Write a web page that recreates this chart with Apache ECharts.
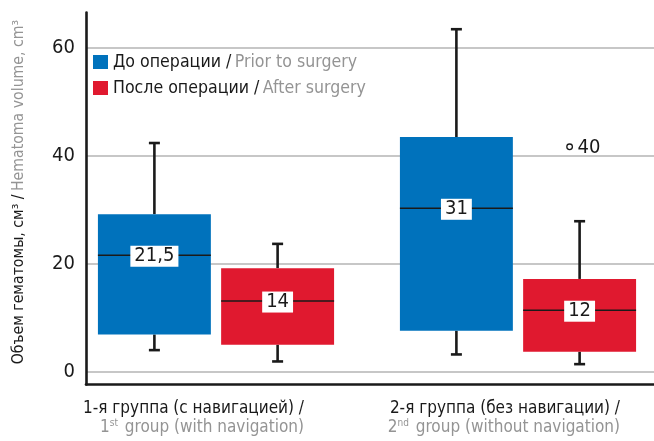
<!DOCTYPE html>
<html>
<head>
<meta charset="utf-8">
<script src="https://cdn.jsdelivr.net/npm/echarts@6/dist/echarts.min.js"></script>
<style>
  html, body { margin: 0; padding: 0; background: #fff; }
  #chart { width: 654px; height: 441px; }
</style>
</head>
<body>
<div id="chart"></div>
<script>
// groups on the x axis
const groupRu = ['1-я группа (с навигацией) /', '2-я группа (без навигации) /'];
const groupEn = [['1', 'st', ' group (with navigation)'], ['2', 'nd', ' group (without navigation)']];

// [min, Q1, median, Q3, max], cm3
const beforeStats = [[4.0, 6.9, 21.6, 29.2, 42.4], [3.2, 7.6, 30.3, 43.5, 63.5]];
const afterStats = [[1.9, 5.0, 13.1, 19.2, 23.7], [1.4, 3.7, 11.4, 17.2, 27.9]];
const beforeLabels = ['21,5', '31'];
const afterLabels = ['14', '12'];

// outliers of "after" series: [group, value, label]
const afterOutliers = [[1, 41.7, '40']];

const yTicks = [0, 20, 40, 60];
const yMax = 66.6;

const FONT = "'Liberation Sans Narrow', 'DejaVu Sans Condensed', sans-serif";
const BLUE = '#0072bc';
const RED = '#e0192f';
const GRAY = '#949494';
const INK = '#1a1a1a';

const boxRatio = 0.374;   // box width / group spacing
const shift = 0.204;      // box centre offset / group spacing

var myChart = echarts.init(document.getElementById('chart'), null, { renderer: 'canvas' });

const renderBox = (side, color, labels) => (params, api) => {
    const cat = api.value(0);
    const band = api.size([1, 0])[0];
    const cx = api.coord([cat, 0])[0] + side * shift * band;
    const half = boxRatio * band / 2;
    const y = i => api.coord([cat, api.value(i)])[1];
    const yMin = y(1), yQ1 = y(2), yMed = y(3), yQ3 = y(4), yTop = y(5);
    const cap = 5.5;
    const w = { stroke: INK, lineWidth: 2.6 };
    return {
        type: 'group',
        children: [
            { type: 'line', shape: { x1: cx, y1: yTop, x2: cx, y2: yQ3 }, style: w },
            { type: 'line', shape: { x1: cx, y1: yQ1, x2: cx, y2: yMin }, style: w },
            { type: 'line', shape: { x1: cx - cap, y1: yTop, x2: cx + cap, y2: yTop }, style: w },
            { type: 'line', shape: { x1: cx - cap, y1: yMin, x2: cx + cap, y2: yMin }, style: w },
            { type: 'rect', shape: { x: cx - half, y: yQ3, width: half * 2, height: yQ1 - yQ3 }, style: { fill: color } },
            { type: 'line', shape: { x1: cx - half, y1: yMed, x2: cx + half, y2: yMed }, style: { stroke: INK, lineWidth: 1.5 } },
            {
                type: 'text', x: cx, y: yMed + 1,
                style: {
                    text: labels[params.dataIndex], fontFamily: FONT, fontSize: 20, fill: INK,
                    align: 'center', verticalAlign: 'middle',
                    backgroundColor: '#fff', padding: [1, 4, 0, 4]
                }
            }
        ]
    };
};

const renderOutlier = (params, api) => {
    const cat = api.value(0);
    const band = api.size([1, 0])[0];
    const p = api.coord([cat, api.value(1)]);
    const cx = p[0] + shift * band - 10;
    return {
        type: 'group',
        children: [
            { type: 'circle', shape: { cx: cx, cy: p[1], r: 2.8 }, style: { fill: '#fff', stroke: INK, lineWidth: 1.3 } },
            {
                type: 'text', x: cx + 8, y: p[1] + 1,
                style: { text: api.value(2), fontFamily: FONT, fontSize: 20, fill: INK, align: 'left', verticalAlign: 'middle' }
            }
        ]
    };
};

const gTop = 12.5;
const gHeight = 359.2;
const cats = groupRu.map((g, i) => 'g' + i);

const option = {
    animation: false,
    textStyle: { fontFamily: FONT },
    grid: [
        { left: 86, right: 0, top: gTop, bottom: 56.5 },           // frame
        { left: 86, right: 0, top: gTop, height: gHeight },         // y scale
        { left: 216, width: 302, top: gTop, height: gHeight },      // boxes: group centres at the ends
        { left: 304, width: 316, top: gTop, bottom: 56.5 }          // x labels: right edges at the ends
    ],
    legend: {
        orient: 'vertical', left: 93, top: 53, padding: 0,
        icon: 'rect', itemWidth: 15, itemHeight: 14, itemGap: 8,
        data: ['До операции', 'После операции'],
        formatter: name => name === 'До операции'
            ? '{a|До операции /} {b|Prior to surgery}'
            : '{a|После операции /} {b|After surgery}',
        textStyle: {
            rich: {
                a: { fontFamily: FONT, fontSize: 17.6, color: INK },
                b: { fontFamily: FONT, fontSize: 17.6, color: GRAY }
            }
        }
    },
    xAxis: [
        {
            gridIndex: 0, type: 'category', data: cats,
            axisLine: { lineStyle: { color: INK, width: 2.6 } },
            axisTick: { show: false }, axisLabel: { show: false }
        },
        { gridIndex: 1, type: 'category', data: cats, show: false },
        { gridIndex: 2, type: 'category', data: cats, boundaryGap: false, show: false },
        {
            gridIndex: 3, type: 'category', data: cats, boundaryGap: false,
            axisLine: { show: false }, axisTick: { show: false },
            axisLabel: {
                interval: 0, align: 'right', margin: 15,
                formatter: (v, i) => '{a|' + groupRu[i] + '}\n{b|' + groupEn[i][0] + '}{s|' + groupEn[i][1] + '}{b|' + groupEn[i][2] + '}',
                rich: {
                    a: { fontFamily: FONT, fontSize: 17, color: INK, lineHeight: 19 },
                    b: { fontFamily: FONT, fontSize: 17, color: GRAY, lineHeight: 19 },
                    s: { fontFamily: FONT, fontSize: 10, color: GRAY, lineHeight: 19, verticalAlign: 'top', padding: [0, 2, 0, 0] }
                }
            }
        }
    ],
    yAxis: [
        {
            gridIndex: 0, type: 'value', min: 0, max: 1,
            axisLine: { show: true, lineStyle: { color: INK, width: 2.6 } },
            axisTick: { show: false }, axisLabel: { show: false }, splitLine: { show: false }
        },
        {
            gridIndex: 1, type: 'value', min: 0, max: yMax, interval: 20,
            axisLine: { show: false }, axisTick: { show: false },
            axisLabel: {
                margin: 11, fontFamily: FONT, fontSize: 20, color: INK,
                formatter: v => yTicks.includes(v) ? String(v) : ''
            },
            splitLine: { show: true, showMaxLine: false, lineStyle: { color: '#b4b4b4', width: 1.5 } },
            name: '{a|Объем гематомы, см³ /} {b|Hematoma volume, cm³}',
            nameLocation: 'middle', nameGap: 59,
            nameTextStyle: {
                rich: {
                    a: { fontFamily: FONT, fontSize: 15.7, color: INK },
                    b: { fontFamily: FONT, fontSize: 15.7, color: GRAY }
                }
            }
        },
        { gridIndex: 2, type: 'value', min: 0, max: yMax, show: false },
        { gridIndex: 3, type: 'value', min: 0, max: 1, show: false }
    ],
    series: [
        {
            name: 'До операции', type: 'custom', xAxisIndex: 2, yAxisIndex: 2,
            itemStyle: { color: BLUE },
            renderItem: renderBox(-1, BLUE, beforeLabels),
            encode: { x: 0, y: [1, 2, 3, 4, 5] },
            data: beforeStats.map((d, i) => [i].concat(d))
        },
        {
            name: 'После операции', type: 'custom', xAxisIndex: 2, yAxisIndex: 2,
            itemStyle: { color: RED },
            renderItem: renderBox(1, RED, afterLabels),
            encode: { x: 0, y: [1, 2, 3, 4, 5] },
            data: afterStats.map((d, i) => [i].concat(d))
        },
        {
            name: 'outliers', type: 'custom', xAxisIndex: 2, yAxisIndex: 2,
            renderItem: renderOutlier,
            encode: { x: 0, y: 1 },
            data: afterOutliers
        }
    ]
};

myChart.setOption(option);
window.addEventListener('resize', myChart.resize);
</script>
</body>
</html>
